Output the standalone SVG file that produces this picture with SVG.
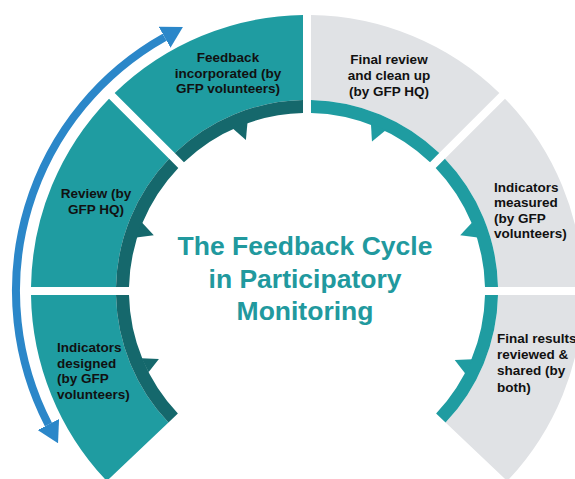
<svg xmlns="http://www.w3.org/2000/svg" width="575" height="479" viewBox="0 0 575 479">
  <defs>
    <style>
      .tile-teal { fill: #1f9ca1; }
      .tile-grey { fill: #e0e2e5; }
      .band-dark { fill: #15686c; }
      .band-teal { fill: #1f9ca1; }
      .lbl { font-family: "Liberation Sans", Arial, sans-serif; font-weight: bold; font-size: 13.5px; fill: #111111; }
      .mid { text-anchor: middle; }
      .title { font-family: "Liberation Sans", Arial, sans-serif; font-weight: bold; font-size: 26.5px; fill: #21999e; text-anchor: middle; }
      .cycle { fill: none; stroke: #2b87c9; stroke-width: 8; }
    </style>
    <marker id="blueHead" viewBox="0 -12 21 24" refX="0" refY="0" markerWidth="21" markerHeight="24" markerUnits="userSpaceOnUse" orient="auto-start-reverse">
      <path d="M0,-12 L21,0 L0,12 Z" fill="#2b87c9"/>
    </marker>
  </defs>
  <rect width="575" height="479" fill="#ffffff"/>

  <g id="node-indicators-designed">
    <path class="tile-teal" d="M106.8,481 A276,276 0 0 1 31,295 L116,295 A191,191 0 0 0 168.45,422.48 Z"/>
    <path class="band-dark" d="M168.45,422.48 A191,191 0 0 1 116,295 L129,295 A178,178 0 0 0 177.88,413.54 Z"/>
    <path class="band-dark" d="M147.9,373.1 L158.9,359.1 L141.2,358.3 L141.9,359 L148.5,372 Z"/>
    <text class="lbl" x="57" y="352">Indicators</text>
    <text class="lbl" x="57" y="367.7">designed</text>
    <text class="lbl" x="57" y="383.4">(by GFP</text>
    <text class="lbl" x="57" y="399">volunteers)</text>
  </g>

  <g id="node-review">
    <path class="tile-teal" d="M31,287 A276,276 0 0 1 109.01,98.67 L169.11,158.77 A191,191 0 0 0 116,287 Z"/>
    <path class="band-dark" d="M116,287 A191,191 0 0 1 169.11,158.77 L178.31,167.97 A178,178 0 0 0 129,287 Z"/>
    <path class="band-dark" d="M136.2,237.5 L153.8,235.3 L141.7,222.2 L139,230 Z"/>
    <text class="lbl mid" x="96" y="198.3">Review (by</text>
    <text class="lbl mid" x="96" y="214">GFP HQ)</text>
  </g>

  <g id="node-feedback-incorporated">
    <path class="tile-teal" d="M114.67,93.01 A276,276 0 0 1 303,15 L303,100 A191,191 0 0 0 174.77,153.11 Z"/>
    <path class="band-dark" d="M174.77,153.11 A191,191 0 0 1 303,100 L303,113 A178,178 0 0 0 183.97,162.31 Z"/>
    <path class="band-dark" d="M232.5,128.3 L245.9,139.9 L247.5,122.2 L240,124.5 Z"/>
    <text class="lbl mid" x="228" y="62.3">Feedback</text>
    <text class="lbl mid" x="228" y="77.6">incorporated (by</text>
    <text class="lbl mid" x="228" y="93">GFP volunteers)</text>
  </g>

  <g id="node-final-review">
    <path class="tile-grey" d="M311,15 A276,276 0 0 1 499.33,93.01 L439.23,153.11 A191,191 0 0 0 311,100 Z"/>
    <path class="band-teal" d="M311,100 A191,191 0 0 1 439.23,153.11 L430.03,162.31 A178,178 0 0 0 311,113 Z"/>
    <path class="band-teal" d="M370.9,123.8 L372,141.5 L385.7,130.3 L378,126.5 Z"/>
    <text class="lbl mid" x="389" y="64.3">Final review</text>
    <text class="lbl mid" x="389" y="80">and clean up</text>
    <text class="lbl mid" x="389" y="95.7">(by GFP HQ)</text>
  </g>

  <g id="node-indicators-measured">
    <path class="tile-grey" d="M504.99,98.67 A276,276 0 0 1 583,287 L498,287 A191,191 0 0 0 444.89,158.77 Z"/>
    <path class="band-teal" d="M444.89,158.77 A191,191 0 0 1 498,287 L485,287 A178,178 0 0 0 435.69,167.97 Z"/>
    <path class="band-teal" d="M472.3,222.2 L460.2,235.3 L477.8,237.5 L475,229 Z"/>
    <text class="lbl" x="494" y="191.7">Indicators</text>
    <text class="lbl" x="494" y="207.2">measured</text>
    <text class="lbl" x="494" y="222.7">(by GFP</text>
    <text class="lbl" x="494" y="238.3">volunteers)</text>
  </g>

  <g id="node-final-results">
    <path class="tile-grey" d="M583,295 A276,276 0 0 1 507.2,481 L445.55,422.48 A191,191 0 0 0 498,295 Z"/>
    <path class="band-teal" d="M498,295 A191,191 0 0 1 445.55,422.48 L436.12,413.54 A178,178 0 0 0 485,295 Z"/>
    <path class="band-teal" d="M472.5,359.2 L454.7,359.9 L465.6,373.9 L469,366 Z"/>
    <text class="lbl" x="497" y="343.3">Final results</text>
    <text class="lbl" x="497" y="359.2">reviewed &amp;</text>
    <text class="lbl" x="497" y="375.2">shared (by</text>
    <text class="lbl" x="497" y="391.5">both)</text>
  </g>

  <g id="title">
    <text class="title" x="305" y="255">The Feedback Cycle</text>
    <text class="title" x="305" y="288.3">in Participatory</text>
    <text class="title" x="305" y="320">Monitoring</text>
  </g>

  <g id="connectors">
    <path class="cycle" d="M48.4,424.5 A291,291 0 0 1 164.6,37.2" marker-start="url(#blueHead)" marker-end="url(#blueHead)"/>
  </g>
</svg>
